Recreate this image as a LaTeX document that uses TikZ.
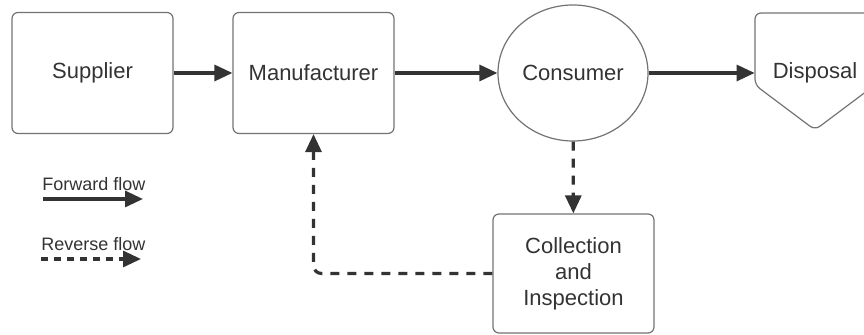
\documentclass[tikz,border=0pt]{standalone}
\usepackage{fontspec}
\setmainfont{Liberation Sans}
\usetikzlibrary{arrows.meta,shapes.geometric}

\begin{document}
\begin{tikzpicture}[x=0.5pt, y=-0.5pt,
    font=\fontsize{11}{13}\selectfont, text=black!80,
    box/.style={draw=black!55, line width=0.6pt, rounded corners=3pt, minimum width=80.5pt, minimum height=60.5pt, inner sep=0pt, align=center},
    flow/.style={draw=black!80, line width=1.6pt, -{Triangle[length=9pt,width=8pt]}},
    back/.style={flow, dash pattern=on 4.5pt off 4pt},
    legend/.style={font=\fontsize{9}{11}\selectfont, anchor=west, inner sep=0pt}]
    \useasboundingbox (0,0) rectangle (864,335);

    % stages of the chain
    \node[box] (supplier) at (92.5,73) {Supplier};
    \node[box] (manufacturer) at (313.5,73) {Manufacturer};
    \node[draw=black!55, line width=0.6pt, ellipse, minimum width=75pt, minimum height=68pt, inner sep=0pt] (consumer) at (573,73) {Consumer};
    \node[minimum width=60pt, inner sep=0pt] (disposal) at (815,73) {Disposal};
    \draw[black!55, line width=0.6pt, rounded corners=3pt] (755,13) -- (875,13) -- (875,85) -- (815,130) -- (755,85) -- cycle;
    \node[box, minimum height=59.5pt] (collection) at (573.5,273.5) {Collection\\and\\Inspection};

    % forward flow
    \draw[flow] (supplier) -- (manufacturer);
    \draw[flow] (manufacturer) -- (consumer);
    \draw[flow] (consumer) -- (disposal);

    % reverse flow
    \draw[back] (consumer) -- (collection);
    \draw[back, rounded corners=4pt] (collection.west) -| (manufacturer.south);

    % legend
    \node[legend] (fwdtxt) at (42,184) {Forward flow};
    \coordinate (fwdA) at (43,199);
    \coordinate (fwdB) at (143,199);
    \draw[flow] (fwdA) -- (fwdB);
    \node[legend] (revtxt) at (41,244) {Reverse flow};
    \coordinate (revA) at (41,259);
    \coordinate (revB) at (141,259);
    \draw[back, dash pattern=on 3.5pt off 3pt] (revA) -- (revB);
\end{tikzpicture}
\end{document}
